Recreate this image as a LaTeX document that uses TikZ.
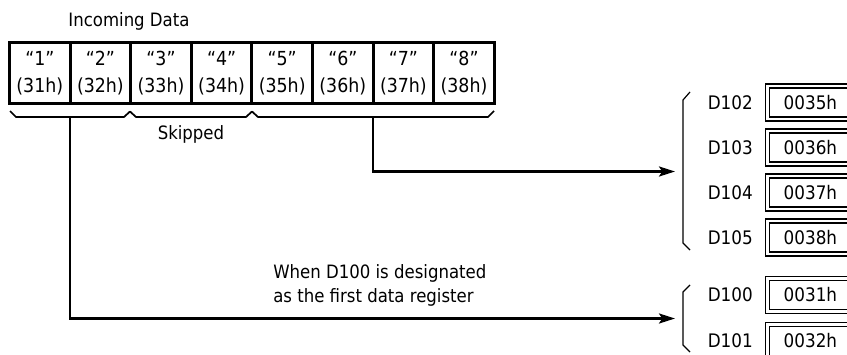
\documentclass[tikz,border=0pt]{standalone}
\usepackage{fontspec}
\setmainfont{DejaVu Sans Condensed}
\usetikzlibrary{arrows.meta,calc}
\begin{document}
\begin{tikzpicture}[x=0.75pt,y=-0.75pt,
  lbl/.style={font=\fontsize{13.8}{18}\selectfont, inner sep=0pt},
  cell/.style={draw, line width=2.2pt, minimum width=45.45pt, minimum height=45.75pt,
    inner sep=0pt, align=center, font=\fontsize{14.5}{20.25}\selectfont},
  bracel/.style={line width=1.3pt, line join=miter},
  rbrace/.style={line width=0.9pt},
  conn/.style={line width=1.9pt, -{Stealth[length=12pt,width=7.5pt,inset=2.5pt]}},
  regname/.style={font=\fontsize{14}{16}\selectfont, inner sep=0pt, anchor=east},
  regbox/.style={draw, double, line width=1.1pt, double distance=1.9pt, anchor=west,
    minimum height=24.5pt, inner xsep=12pt, inner ysep=0pt, text width=150pt, align=left,
    font=\fontsize{14}{16}\selectfont}
]
\useasboundingbox (0,0) rectangle (847,354);
\clip (0,0) rectangle (847,354);
\fill[white] (0,0) rectangle (847,354);

\node[lbl] (title) at (129,21) {Incoming Data};

\foreach \i/\c/\h in {1/1/31,2/2/32,3/3/33,4/4/34,5/5/35,6/6/36,7/7/37,8/8/38}
  \node[cell] (c\i) at ({9.5+60.6*(\i-0.5)},73) {“\c”\\(\h h)};

% braces under the cells
\draw[bracel] (10,111) -- (16,117) -- (124,117) -- (130,111.5);
\draw[bracel] (130,111.5) -- (136,117) -- (246,117) -- (252,111.5);
\draw[bracel] (252,111.5) -- (258,117) -- (488,117) -- (494,111);
\node[lbl] (skip) at (191,134) {Skipped};

\coordinate (ba) at (70,117);
\coordinate (bc) at (373,117);

% register braces
\draw[rbrace] (690,92) -- (683,100) -- (683,243) -- (690,250);
\draw[rbrace] (690,285) -- (683,292) -- (683,345) -- (690,352);
\coordinate (ra) at (675,171.5);
\coordinate (rb) at (675,318.5);

% registers
\foreach \n/\v/\y in {102/35/102.5,103/36/147.5,104/37/192.5,105/38/237.5,100/31/295,101/32/341}{
  \node[regname] (n\n) at (753,\y) {D\n};
  \node[regbox] (b\n) at (767,\y) {00\v h};
}

\node[lbl, anchor=west, align=left] (note) at (273,285) {When D100 is designated\\as the first data register};

\draw[conn] (bc) |- (ra);
\draw[conn] (ba) |- (rb);
\end{tikzpicture}
\end{document}
